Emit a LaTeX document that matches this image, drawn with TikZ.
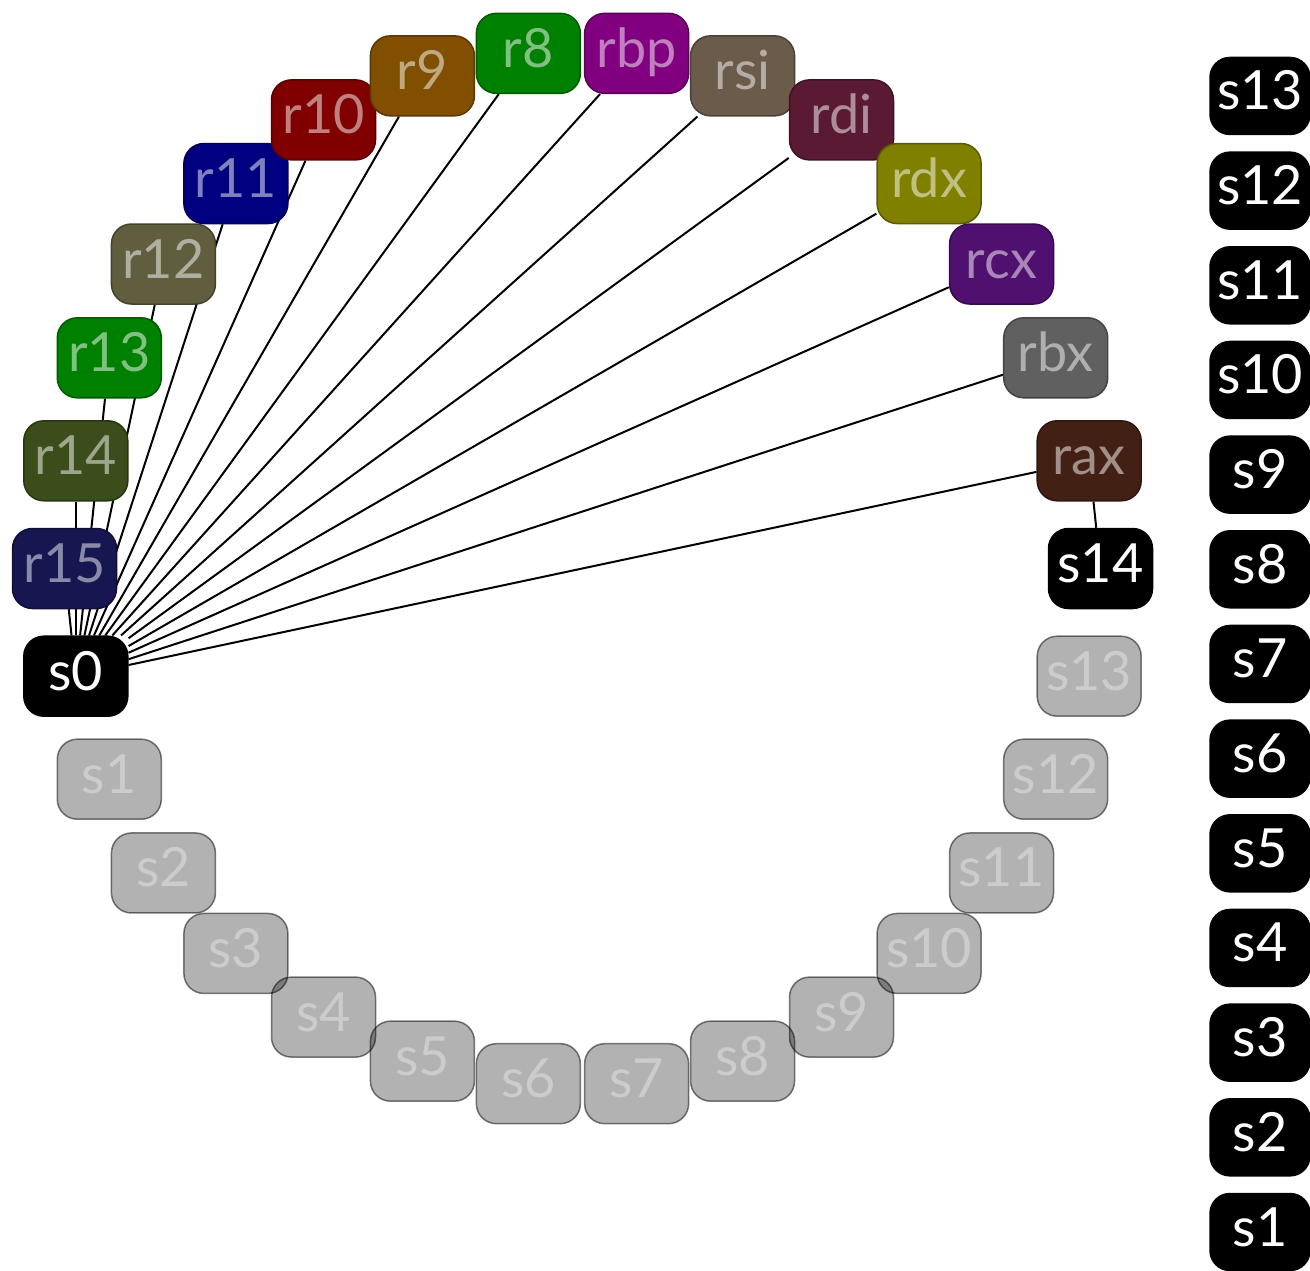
\documentclass[tikz,border=0pt]{standalone}
\usepackage{fontspec}
\setmainfont{Lato}
\usetikzlibrary{positioning,calc,backgrounds}

\definecolor{cRfifteen}{HTML}{161650}
\definecolor{cRfourteen}{HTML}{3A4D1A}
\definecolor{cRthirteen}{HTML}{008000}
\definecolor{cRtwelve}{HTML}{615E3F}
\definecolor{cReleven}{HTML}{000080}
\definecolor{cRten}{HTML}{800000}
\definecolor{cRnine}{HTML}{805000}
\definecolor{cReight}{HTML}{008000}
\definecolor{cRbp}{HTML}{800080}
\definecolor{cRsi}{HTML}{6B5B4B}
\definecolor{cRdi}{HTML}{5A1A33}
\definecolor{cRdx}{HTML}{808000}
\definecolor{cRcx}{HTML}{501070}
\definecolor{cRbx}{HTML}{606060}
\definecolor{cRax}{HTML}{432014}

\tikzset{
  box/.style={rounded corners=20pt, minimum width=104pt, minimum height=80pt,
    inner sep=0pt, line width=1.5pt, text height=40pt, text depth=12pt,
    font=\fontsize{54}{54}\selectfont},
  reg/.style={box, draw=#1!70!black, fill=#1, text=#1!50!white},
  slot/.style={box, draw=black, fill=black, text=white},
  freeslot/.style={box, draw=black, draw opacity=0.5, fill=black, fill opacity=0.3,
    text opacity=1, text=black!20},
  stackslot/.style={slot, minimum width=100pt, minimum height=77pt},
  link/.style={line width=2pt, black}
}

\begin{document}
\begin{tikzpicture}[x=1pt,y=1pt]
    \useasboundingbox (0,0) rectangle (1310,-1271);
    \coordinate (ctr) at (582.5,-568.5);

    % Registers on the upper arc
    \foreach \name/\col [count=\i] in {r15/cRfifteen, r14/cRfourteen, r13/cRthirteen,
        r12/cRtwelve, r11/cReleven, r10/cRten, r9/cRnine, r8/cReight, rbp/cRbp,
        rsi/cRsi, rdi/cRdi, rdx/cRdx, rcx/cRcx, rbx/cRbx, rax/cRax}
      \node[reg=\col] (\name) at ($(ctr)+({180-12*(\i-1)}:518)$) {\name};

    % Used slots
    \node[slot] (s0) at ($(ctr)+(192:518)$) {s0};
    \node[slot] (s14) at ($(ctr)+(0:518)$) {s14};

    % Free slots on the lower arc
    \foreach \k in {13,...,1}
      \node[freeslot] (s\k) at ($(ctr)+({-12*(14-\k)}:518)$) {s\k};

    % Stack column
    \foreach \k in {1,...,13}
      \node[stackslot] (stack\k) at (1260,{-1232+(\k-1)*94.67}) {s\k};

    % Links behind the nodes
    \begin{pgfonlayer}{background}
      \foreach \name in {r15,r14,r13,r12,r11,r10,r9,r8,rbp,rsi,rdi,rdx,rcx,rbx,rax}
        \draw[link] (s0) -- (\name);
      \draw[link] (rax) -- (s14);
    \end{pgfonlayer}
\end{tikzpicture}
\end{document}
